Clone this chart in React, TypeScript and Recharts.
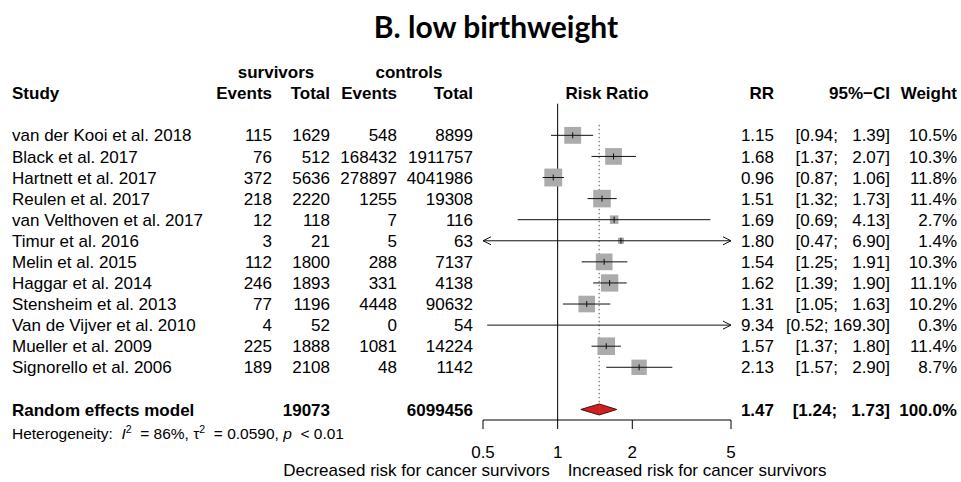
import { ComposedChart, XAxis, YAxis, Scatter, ReferenceLine } from "recharts"

const studies = [
  "van der Kooi et al. 2018",
  "Black et al. 2017",
  "Hartnett et al. 2017",
  "Reulen et al. 2017",
  "van Velthoven et al. 2017",
  "Timur et al. 2016",
  "Melin et al. 2015",
  "Haggar et al. 2014",
  "Stensheim et al. 2013",
  "Van de Vijver et al. 2010",
  "Mueller et al. 2009",
  "Signorello et al. 2006",
]
const survEvents = [115, 76, 372, 218, 12, 3, 112, 246, 77, 4, 225, 189]
const survTotal = [1629, 512, 5636, 2220, 118, 21, 1800, 1893, 1196, 52, 1888, 2108]
const ctrlEvents = [548, 168432, 278897, 1255, 7, 5, 288, 331, 4448, 0, 1081, 48]
const ctrlTotal = [8899, 1911757, 4041986, 19308, 116, 63, 7137, 4138, 90632, 54, 14224, 1142]
const riskRatio = [1.15, 1.68, 0.96, 1.51, 1.69, 1.8, 1.54, 1.62, 1.31, 9.34, 1.57, 2.13]
const ciLower = [0.94, 1.37, 0.87, 1.32, 0.69, 0.47, 1.25, 1.39, 1.05, 0.52, 1.37, 1.57]
const ciUpper = [1.39, 2.07, 1.06, 1.73, 4.13, 6.9, 1.91, 1.9, 1.63, 169.3, 1.8, 2.9]
const weights = [10.5, 10.3, 11.8, 11.4, 2.7, 1.4, 10.3, 11.1, 10.2, 0.3, 11.4, 8.7]

const pooled = { label: "Random effects model", survTotal: 19073, ctrlTotal: 6099456, rr: 1.47, lo: 1.24, hi: 1.73, weight: 100 }
const hetI2 = "86%"
const hetTau2 = "0.0590"
const hetP = "0.01"

const xTicks = [0.5, 1, 2, 5]
const xDomain: [number, number] = [0.5, 5]

const FONT = '"Liberation Sans", Arial, Helvetica, sans-serif'
const FS = 17

// anchors of the table columns (right edges, except study / centred headers)
const COL = {
  study: 12,
  survEvents: 272,
  survTotal: 330,
  ctrlEvents: 397,
  ctrlTotal: 473,
  riskRatio: 607,
  rr: 774,
  ci: 890,
  weight: 957,
}

const f2 = (v: number) => v.toFixed(2)
const ciText = (lo: number, hi: number) => `[${f2(lo)}; ${f2(hi).padStart(6, " ")}]`
const wText = (w: number) => `${w.toFixed(1)}%`

const studyRows = studies.map((name, i) => ({
  row: i,
  x: riskRatio[i],
  weight: weights[i],
}))

// arrow heads where a CI runs past the axis limits
const arrowRows = studies.flatMap((_, i) => {
  const out: { row: number; x: number; dir: string }[] = []
  if (ciLower[i] < xDomain[0]) out.push({ row: i, x: xDomain[0], dir: "left" })
  if (ciUpper[i] > xDomain[1]) out.push({ row: i, x: xDomain[1], dir: "right" })
  return out
})

const tableRows = [
  { row: -3, x: 0.5, kind: "group" },
  { row: -2, x: 0.5, kind: "head" },
  ...studies.map((name, i) => ({ row: i, x: 0.5, kind: "study", i })),
  { row: 13, x: 0.5, kind: "pooled" },
]

function T({ x, y, anchor = "start", bold = false, size = FS, children }: any) {
  return (
    <text
      x={x}
      y={y}
      dy="0.36em"
      textAnchor={anchor}
      fontFamily={FONT}
      fontSize={size}
      fontWeight={bold ? 700 : 400}
      fill="#000"
      style={{ whiteSpace: "pre" }}
    >
      {children}
    </text>
  )
}

function renderTableRow(props: any) {
  const { cy, payload } = props
  if (payload.kind === "group") {
    return (
      <g>
        <T x={276} y={cy} anchor="middle" bold>survivors</T>
        <T x={409} y={cy} anchor="middle" bold>controls</T>
      </g>
    )
  }
  if (payload.kind === "head") {
    return (
      <g>
        <T x={COL.study} y={cy} bold>Study</T>
        <T x={COL.survEvents} y={cy} anchor="end" bold>Events</T>
        <T x={COL.survTotal} y={cy} anchor="end" bold>Total</T>
        <T x={COL.ctrlEvents} y={cy} anchor="end" bold>Events</T>
        <T x={COL.ctrlTotal} y={cy} anchor="end" bold>Total</T>
        <T x={COL.riskRatio} y={cy} anchor="middle" bold>Risk Ratio</T>
        <T x={COL.rr} y={cy} anchor="end" bold>RR</T>
        <T x={COL.ci} y={cy} anchor="end" bold>95%−CI</T>
        <T x={COL.weight} y={cy} anchor="end" bold>Weight</T>
      </g>
    )
  }
  if (payload.kind === "pooled") {
    return (
      <g>
        <T x={COL.study} y={cy} bold>{pooled.label}</T>
        <T x={COL.survTotal} y={cy} anchor="end" bold>{pooled.survTotal}</T>
        <T x={COL.ctrlTotal} y={cy} anchor="end" bold>{pooled.ctrlTotal}</T>
        <T x={COL.rr} y={cy} anchor="end" bold>{f2(pooled.rr)}</T>
        <T x={COL.ci} y={cy} anchor="end" bold>{ciText(pooled.lo, pooled.hi)}</T>
        <T x={COL.weight} y={cy} anchor="end" bold>{wText(pooled.weight)}</T>
        <text x={COL.study} y={cy + 24} dy="0.36em" fontFamily={FONT} fontSize={15.5} fill="#000" style={{ whiteSpace: "pre" }}>
          {"Heterogeneity:  "}
          <tspan fontStyle="italic">I</tspan>
          <tspan dy={-6} fontSize={10.5}>2</tspan>
          <tspan dy={6}>{`  = ${hetI2}, \u03c4`}</tspan>
          <tspan dy={-6} fontSize={10.5}>2</tspan>
          <tspan dy={6}>{`  = ${hetTau2}, `}</tspan>
          <tspan fontStyle="italic">p</tspan>
          <tspan>{`  < ${hetP}`}</tspan>
        </text>
      </g>
    )
  }
  const i = payload.i
  return (
    <g>
      <T x={COL.study} y={cy}>{studies[i]}</T>
      <T x={COL.survEvents} y={cy} anchor="end">{survEvents[i]}</T>
      <T x={COL.survTotal} y={cy} anchor="end">{survTotal[i]}</T>
      <T x={COL.ctrlEvents} y={cy} anchor="end">{ctrlEvents[i]}</T>
      <T x={COL.ctrlTotal} y={cy} anchor="end">{ctrlTotal[i]}</T>
      <T x={COL.rr} y={cy} anchor="end">{f2(riskRatio[i])}</T>
      <T x={COL.ci} y={cy} anchor="end">{ciText(ciLower[i], ciUpper[i])}</T>
      <T x={COL.weight} y={cy} anchor="end">{wText(weights[i])}</T>
    </g>
  )
}

// square area proportional to study weight
function renderSquare(props: any) {
  const { cx, cy, payload } = props
  const s = 5.2 * Math.sqrt(payload.weight)
  return <rect x={cx - s / 2} y={cy - s / 2} width={s} height={s} fill="#ababab" />
}

function renderEstimateTick(props: any) {
  const { cx, cy } = props
  return <line x1={cx} x2={cx} y1={cy - 3} y2={cy + 3} stroke="#111" strokeWidth={1} />
}

function renderArrow(props: any) {
  const { cx, cy, payload } = props
  const d = payload.dir === "left" ? 8 : -8
  return <path d={`M${cx + d},${cy - 4}L${cx},${cy}L${cx + d},${cy + 4}`} fill="none" stroke="#111" strokeWidth={1} />
}

const DIAMOND_H = 5.5

function leftHalfDiamond(p: any) {
  const { x1, y1, x2 } = p
  return (
    <g>
      <polygon points={`${x1},${y1} ${x2 + 0.5},${y1 - DIAMOND_H} ${x2 + 0.5},${y1 + DIAMOND_H}`} fill="#d11f1f" />
      <path d={`M${x2},${y1 - DIAMOND_H}L${x1},${y1}L${x2},${y1 + DIAMOND_H}`} fill="none" stroke="#4a0a0a" strokeWidth={1} />
    </g>
  )
}

function rightHalfDiamond(p: any) {
  const { x1, y1, x2 } = p
  return (
    <g>
      <polygon points={`${x1},${y1 - DIAMOND_H} ${x2},${y1} ${x1},${y1 + DIAMOND_H}`} fill="#d11f1f" />
      <path d={`M${x1},${y1 - DIAMOND_H}L${x2},${y1}L${x1},${y1 + DIAMOND_H}`} fill="none" stroke="#4a0a0a" strokeWidth={1} />
    </g>
  )
}

function renderSideLabels(props: any) {
  const vb = props.viewBox
  const y = vb.y + vb.height + 50
  return (
    <g>
      <T x={vb.x - 8} y={y} anchor="end">Decreased risk for cancer survivors</T>
      <T x={vb.x + 10} y={y}>Increased risk for cancer survivors</T>
    </g>
  )
}

export default function App() {
  return (
    <div style={{ position: "absolute", left: 0, top: 0, width: 961, height: 482, background: "#fff" }}>
      <div
        style={{
          position: "absolute",
          left: 296,
          top: 11,
          width: 400,
          textAlign: "center",
          fontFamily: "Lato, sans-serif",
          fontWeight: 700,
          fontSize: 30,
          lineHeight: "30px",
          color: "#000",
        }}
      >
        B. low birthweight
      </div>
      <ComposedChart width={961} height={482} margin={{ top: 51, right: 230, bottom: 32, left: 483 }}>
        <XAxis
          dataKey="x"
          type="number"
          scale="log"
          domain={xDomain}
          allowDataOverflow
          ticks={xTicks}
          interval={0}
          height={30}
          tickSize={9}
          tickMargin={17}
          axisLine={{ stroke: "#000" }}
          tickLine={{ stroke: "#000" }}
          tick={{ fontSize: FS, fill: "#000", fontFamily: FONT }}
        />
        <XAxis xAxisId="txt" dataKey="x" type="number" domain={[0, 1]} hide height={0} />
        <YAxis dataKey="row" type="number" domain={[-4, 13.5]} reversed hide width={0} />

        <ReferenceLine
          segment={[{ x: 1, y: -1.5 }, { x: 1, y: 13.5 }]}
          stroke="#000"
          ifOverflow="visible"
          label={renderSideLabels}
          zIndex={250}
        />
        <ReferenceLine
          segment={[{ x: pooled.rr, y: -0.5 }, { x: pooled.rr, y: 13 }]}
          stroke="#555"
          strokeDasharray="1.5 2.5"
          ifOverflow="visible"
          zIndex={250}
        />

        <Scatter data={studyRows} shape={renderSquare} isAnimationActive={false} zIndex={300} />

        {/* confidence intervals, clipped to the axis range */}
        {studies.map((name, i) => (
          <ReferenceLine
            key={name}
            segment={[{ x: ciLower[i], y: i }, { x: ciUpper[i], y: i }]}
            stroke="#111"
            strokeWidth={1}
            ifOverflow="hidden"
            zIndex={700}
          />
        ))}

        <Scatter data={studyRows} shape={renderEstimateTick} isAnimationActive={false} zIndex={800} />
        <Scatter data={arrowRows} shape={renderArrow} isAnimationActive={false} zIndex={800} />

        <ReferenceLine segment={[{ x: pooled.lo, y: 13 }, { x: pooled.rr, y: 13 }]} shape={leftHalfDiamond} ifOverflow="visible" zIndex={700} />
        <ReferenceLine segment={[{ x: pooled.rr, y: 13 }, { x: pooled.hi, y: 13 }]} shape={rightHalfDiamond} ifOverflow="visible" zIndex={700} />

        <Scatter data={tableRows} xAxisId="txt" shape={renderTableRow} isAnimationActive={false} zIndex={900} />
      </ComposedChart>
    </div>
  )
}
